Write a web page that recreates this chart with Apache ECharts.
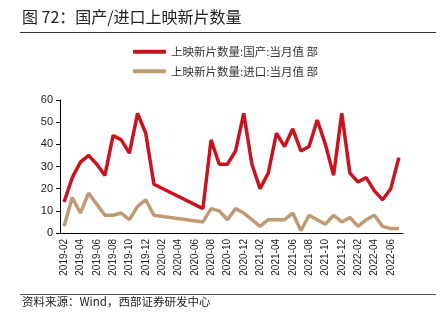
<!DOCTYPE html>
<html>
<head>
<meta charset="utf-8">
<script src="https://cdn.jsdelivr.net/npm/echarts@6/dist/echarts.min.js"></script>
<style>
html,body{margin:0;padding:0;background:#fff;}
#chart{width:441px;height:328px;}
</style>
</head>
<body>
<div id="chart"></div>
<script>
var months = ["2019-02","2019-03","2019-04","2019-05","2019-06","2019-07","2019-08","2019-09","2019-10","2019-11","2019-12",
"2020-01","2020-02","2020-03","2020-04","2020-05","2020-06","2020-07","2020-08","2020-09","2020-10","2020-11","2020-12",
"2021-01","2021-02","2021-03","2021-04","2021-05","2021-06","2021-07","2021-08","2021-09","2021-10","2021-11","2021-12",
"2022-01","2022-02","2022-03","2022-04","2022-05","2022-06","2022-07"];
var domestic = [14,25,32,35,31,26,44,42,36,54,45,
22,null,null,null,null,null,11,42,31,31,37,54,
31,20,27,45,39,47,37,39,51,40,26,54,
27,23,25,19,15,20,34];
var imported = [3,16,9,18,13,8,8,9,6,12,15,
8,null,null,null,null,null,5,11,10,6,11,9,
6,3,6,6,6,9,1,8,6,4,8,5,
7,3,6,8,3,2,2];
var yTicks = [0,10,20,30,40,50,60];
var seriesNames = ["上映新片数量:国产:当月值 部","上映新片数量:进口:当月值 部"];
var titleText = "图 72：国产/进口上映新片数量";
var sourceText = "资料来源：Wind，西部证券研发中心";

var chart = echarts.init(document.getElementById('chart'), null, {renderer:'canvas'});
var font = '"Noto Sans CJK SC", "Liberation Sans", sans-serif';
chart.setOption({
  animation:false,
  backgroundColor:'#fff',
  textStyle:{fontFamily:font},
  graphic:[
    {type:'text', left:22, top:9, style:{text:titleText, font:'16px ' + font, fill:'#222'}},
    {type:'line', shape:{x1:20,y1:32.5,x2:436,y2:32.5}, style:{stroke:'#333', lineWidth:1}},
    {type:'line', shape:{x1:20,y1:294.5,x2:436,y2:294.5}, style:{stroke:'#555', lineWidth:1}},
    {type:'text', left:22, top:296, style:{text:sourceText, font:'11.5px ' + font, fill:'#222'}}
  ],
  legend:{
    orient:'vertical', left:128, top:41, itemWidth:33, itemHeight:4, itemGap:8,
    icon:'roundRect',
    textStyle:{fontSize:11.5, color:'#333', fontFamily:font},
    data:seriesNames
  },
  grid:{left:60, right:38, top:100, bottom:95},
  xAxis:{
    type:'category', data:months, boundaryGap:true,
    axisLine:{lineStyle:{color:'#000', width:1}},
    axisTick:{interval:1, length:4, lineStyle:{color:'#000'}},
    axisLabel:{interval:1, rotate:90, fontSize:10, color:'#222', margin:6, fontFamily:'"Liberation Sans", sans-serif'}
  },
  yAxis:{
    type:'value', min:0, max:60, interval:10,
    splitLine:{show:false},
    axisLine:{show:true, lineStyle:{color:'#000', width:1}},
    axisTick:{show:true, length:4, lineStyle:{color:'#000'}},
    axisLabel:{fontSize:11, color:'#222', margin:7, fontFamily:'"Liberation Sans", sans-serif'}
  },
  series:[
    {name:seriesNames[0], type:'line', data:domestic, connectNulls:true, symbol:'none',
     lineStyle:{color:'#C8141E', width:3.5}, itemStyle:{color:'#C8141E'}},
    {name:seriesNames[1], type:'line', data:imported, connectNulls:true, symbol:'none',
     lineStyle:{color:'#C09A72', width:3.5}, itemStyle:{color:'#C09A72'}}
  ]
});
</script>
</body>
</html>
